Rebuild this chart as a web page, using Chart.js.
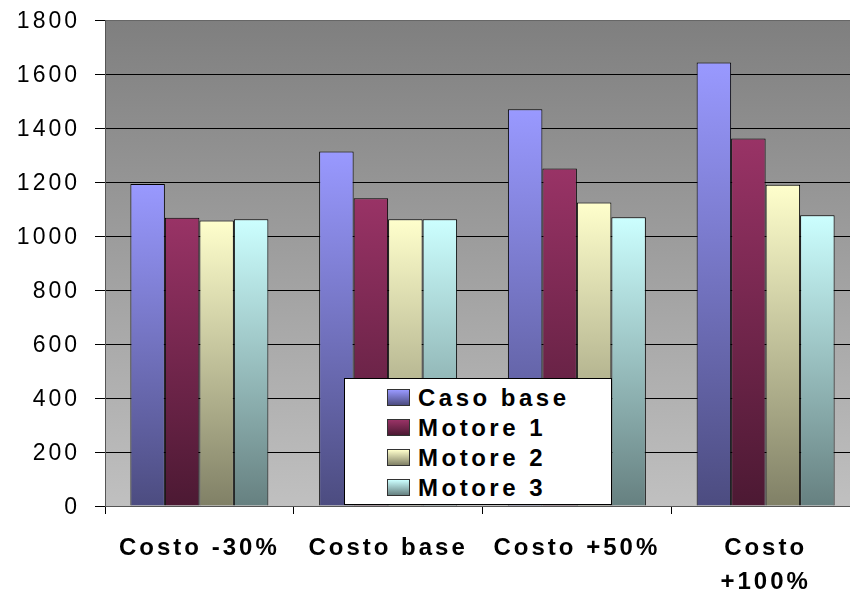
<!DOCTYPE html>
<html>
<head>
<meta charset="utf-8">
<script src="https://cdn.jsdelivr.net/npm/chart.js@4/dist/chart.umd.min.js"></script>
<style>
  body { margin: 0; overflow: hidden; background: #fff; }
  #contenitore { position: relative; width: 870px; height: 592px; }
  .legenda {
    position: absolute; left: 344px; top: 378px; width: 268px; height: 127px;
    border: 1px solid #000; background: #fff;
    font: bold 24px "Liberation Sans", Arial, sans-serif; letter-spacing: 3.5px;
    padding: 4px 0 0 42px; box-sizing: border-box; color: #000;
  }
  .voce { line-height: 30px; height: 30px; white-space: nowrap; }
  .campione {
    display: inline-block; width: 21px; height: 15px; border: 1px solid #333;
    margin-right: 8px; vertical-align: baseline;
  }
</style>
</head>
<body>
<div id="contenitore">
  <canvas id="grafico"></canvas>
  <div class="legenda" id="legenda"></div>
</div>
<script>
const categorie = ["Costo -30%", "Costo base", "Costo +50%", ["Costo", "+100%"]];
const nomiSerie = ["Caso base", "Motore 1", "Motore 2", "Motore 3"];
const casoBase = [1193, 1313, 1469, 1643];
const motore1 = [1068, 1140, 1250, 1361];
const motore2 = [1057, 1062, 1124, 1190];
const motore3 = [1062, 1062, 1069, 1077];
const valoriAsseY = [0, 200, 400, 600, 800, 1000, 1200, 1400, 1600, 1800];

const coloriChiari = ["#9999FF", "#993366", "#FFFFCC", "#CCFFFF"];
const coloriScuri = ["#4C4C80", "#4C1933", "#808066", "#668080"];

function gradiente(i) {
  return function (context) {
    const chart = context.chart;
    if (!chart.chartArea || context.type !== "data") return coloriChiari[i];
    const y = chart.scales.y;
    const alto = y.getPixelForValue(context.raw);
    const basso = y.getPixelForValue(0);
    const g = chart.ctx.createLinearGradient(0, alto, 0, basso);
    g.addColorStop(0, coloriChiari[i]);
    g.addColorStop(1, coloriScuri[i]);
    return g;
  };
}

// sfondo dell'area del grafico, da grigio scuro a grigio chiaro
const sfondo = {
  id: "sfondo",
  beforeDraw(chart) {
    const { ctx, chartArea } = chart;
    const g = ctx.createLinearGradient(0, chartArea.top, 0, chartArea.bottom);
    g.addColorStop(0, "#7F7F7F");
    g.addColorStop(1, "#C0C0C0");
    ctx.save();
    ctx.fillStyle = g;
    ctx.fillRect(chartArea.left, chartArea.top, chartArea.right - chartArea.left, chartArea.bottom - chartArea.top);
    ctx.restore();
    ctx.letterSpacing = "3px";
  }
};

const serie = [casoBase, motore1, motore2, motore3];

const grafico = new Chart(document.getElementById("grafico"), {
  type: "bar",
  data: {
    labels: categorie,
    datasets: serie.map((valori, i) => ({
      label: nomiSerie[i],
      data: valori,
      backgroundColor: gradiente(i),
      borderColor: "#000",
      borderWidth: 1,
      barPercentage: 1,
      categoryPercentage: 0.731
    }))
  },
  options: {
    responsive: true,
    maintainAspectRatio: false,
    animation: false,
    layout: { padding: { top: 20, right: 10, left: 0, bottom: 0 } },
    plugins: {
      legend: { display: false },
      tooltip: { enabled: false }
    },
    scales: {
      x: {
        afterFit: function (scale) {
          scale.height = 86;
          scale.paddingLeft = 0; scale.paddingRight = 0;
        },
        grid: {
          display: true, drawOnChartArea: false, drawTicks: true,
          tickLength: 8, tickColor: "#000", offset: true
        },
        border: { color: "#555", width: 1 },
        ticks: {
          color: "#000", padding: 18, maxRotation: 0, autoSkip: false,
          font: { family: "'Liberation Sans', Arial, sans-serif", size: 24, weight: "bold", lineHeight: 1.4 }
        }
      },
      y: {
        min: 0,
        max: 1800,
        afterFit: function (scale) {
          scale.width = 105;
          scale.paddingTop = 0; scale.paddingBottom = 0;
        },
        afterBuildTicks: function (scale) {
          scale.ticks = valoriAsseY.map(v => ({ value: v }));
        },
        grid: {
          color: c => (c.tick && (c.tick.value === 1800 || c.tick.value === 0)) ? "#666" : "#000",
          tickColor: "#000",
          tickLength: 10
        },
        border: { color: "#555", width: 1 },
        ticks: {
          color: "#000", padding: 15, labelOffset: 2,
          callback: v => String(v),
          font: { family: "'Liberation Sans', Arial, sans-serif", size: 23 }
        }
      }
    }
  },
  plugins: [sfondo]
});

// legenda costruita dai dataset
const legenda = document.getElementById("legenda");
grafico.data.datasets.forEach((ds, i) => {
  legenda.innerHTML += `<div class="voce"><span class="campione" style="background: linear-gradient(${coloriChiari[i]}, ${coloriScuri[i]})"></span>${ds.label}</div>`;
});
</script>
</body>
</html>
